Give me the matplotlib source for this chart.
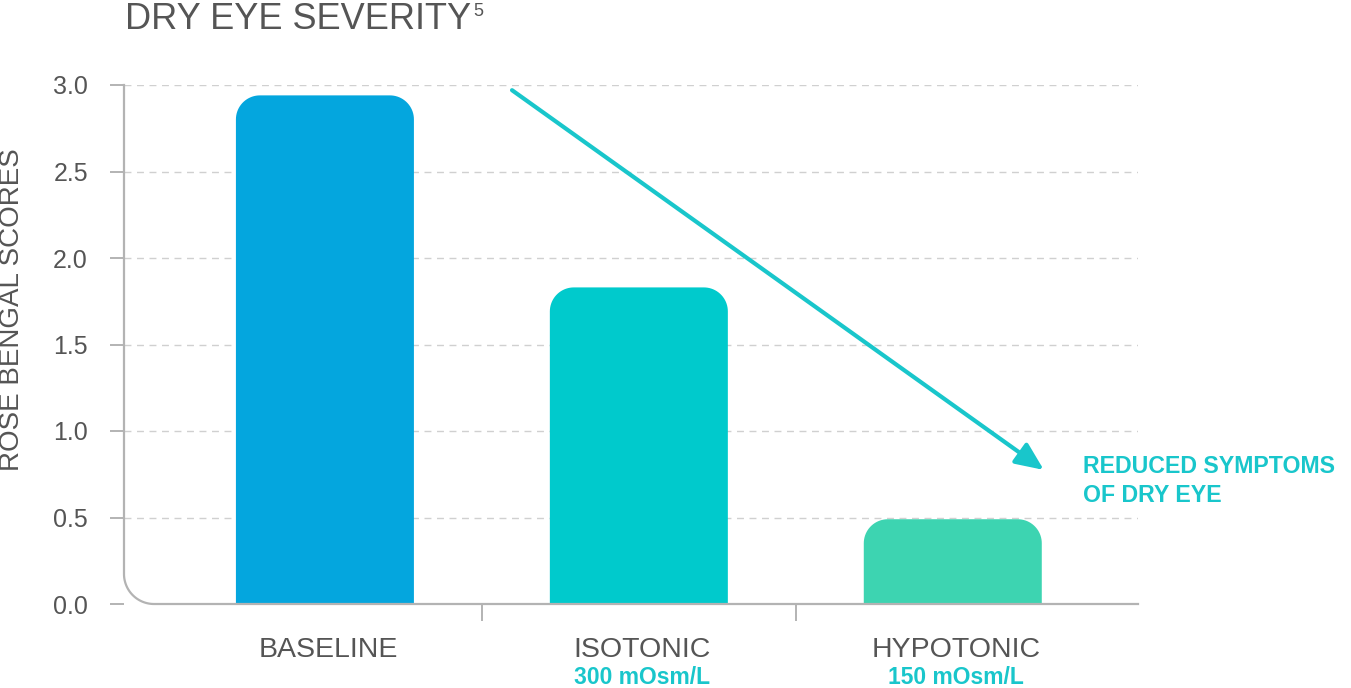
import numpy as np
import matplotlib
matplotlib.use("Agg")
import matplotlib.pyplot as plt
from matplotlib.path import Path
from matplotlib.patches import PathPatch

# data
categories = ["BASELINE", "ISOTONIC", "HYPOTONIC"]
sublabels = ["", "300 mOsm/L", "150 mOsm/L"]
scores = [2.94, 1.83, 0.49]
bar_colors = ["#04a6de", "#00cacc", "#3dd4b1"]
yticks = [0.0, 0.5, 1.0, 1.5, 2.0, 2.5, 3.0]

GREY = "#555555"
AXIS = "#b3b3b3"
TEAL = "#19c6cb"
FONT = "Liberation Sans"

W, H = 1351, 688
fig = plt.figure(figsize=(W / 100, H / 100), dpi=100)
left, right, bottom, top = 124, 1138, 604, 85
ax = fig.add_axes([left / W, 1 - bottom / H, (right - left) / W, (bottom - top) / H])

x = np.arange(len(categories))
xmin, xmax = -0.64, 2.59
ax.set_xlim(xmin, xmax)
ax.set_ylim(0, 3.0)

# pixel scale for rounded shapes
px_x = (right - left) / (xmax - xmin)
px_y = (bottom - top) / 3.0


def rounded_bar(xc, h, w, r_px, color):
    rx, ry = r_px / px_x, r_px / px_y
    ry = min(ry, h / 2)
    x0, x1 = xc - w / 2, xc + w / 2
    t = np.linspace(0, np.pi / 2, 20)
    pts = [(x0, 0)]
    pts += list(zip(x0 + rx - rx * np.cos(t), h - ry + ry * np.sin(t)))
    pts += list(zip(x1 - rx + rx * np.sin(t), h - ry + ry * np.cos(t)))
    pts += [(x1, 0), (x0, 0)]
    ax.add_patch(PathPatch(Path(pts), facecolor=color, edgecolor="none", zorder=3))


bar_w = 0.567
for xi, s, c in zip(x, scores, bar_colors):
    rounded_bar(xi, s, bar_w, 24, c)

# gridlines
for yt in yticks[1:]:
    ax.axhline(yt, color="#d0d0d0", lw=1, ls=(0, (5, 4)), zorder=1)

for sp in ax.spines.values():
    sp.set_visible(False)

# axis lines with rounded corner
r = 30
rx, ry = r / px_x, r / px_y
t = np.linspace(0, np.pi / 2, 30)
ax_x = [xmin] + list(xmin + rx - rx * np.cos(t)) + [xmax]
ax_y = [3.0] + list(ry - ry * np.sin(t)) + [0]
ax.plot(ax_x, ax_y, color=AXIS, lw=1.6, clip_on=False, zorder=4)

ax.set_yticks(yticks)
ax.set_yticklabels([f"{v:.1f}" for v in yticks], fontsize=18, color=GREY, fontfamily=FONT)
ax.tick_params(axis="y", length=10, width=1.4, color=AXIS, pad=16)
ax.set_xticks([0.5, 1.5])
ax.set_xticklabels(["", ""])
ax.tick_params(axis="x", length=12, width=1.4, color=AXIS)

fig.text(12 / W, 1 - 310 / H, "ROSE BENGAL SCORES", rotation=90, ha="center", va="center",
         fontsize=20, color=GREY, fontfamily=FONT)

for xi, lab, sub in zip(x, categories, sublabels):
    ax.text(xi + 0.01, -0.266, lab, ha="center", va="center", fontsize=20.5, color=GREY,
            fontfamily=FONT, clip_on=False)
    if sub:
        ax.text(xi + 0.01, -0.425, sub, ha="center", va="center", fontsize=16.5, color=TEAL,
                fontfamily=FONT, fontweight="bold", clip_on=False)

# arrow
ax.annotate("", xy=(2.29, 0.775), xytext=(0.596, 2.97),
            arrowprops=dict(arrowstyle="-|>,head_length=1.7,head_width=0.75", color=TEAL, lw=3,
                            shrinkA=0, shrinkB=0), zorder=5)
fig.text(1083 / W, 1 - 481 / H, "REDUCED SYMPTOMS\nOF DRY EYE", ha="left", va="center",
         fontsize=16.7, color=TEAL, fontfamily=FONT, fontweight="bold", linespacing=1.3)

title = fig.text(125 / W, 1 - 29 / H, "DRY EYE SEVERITY", ha="left", va="baseline",
                 fontsize=26, color=GREY, fontfamily=FONT)
fig.canvas.draw()
bb = title.get_window_extent()
fig.text((bb.x1 + 2) / W, 1 - 16 / H, "5", ha="left", va="baseline", fontsize=13,
         color=GREY, fontfamily=FONT)

fig.savefig("out.png", dpi=100, facecolor="white")
